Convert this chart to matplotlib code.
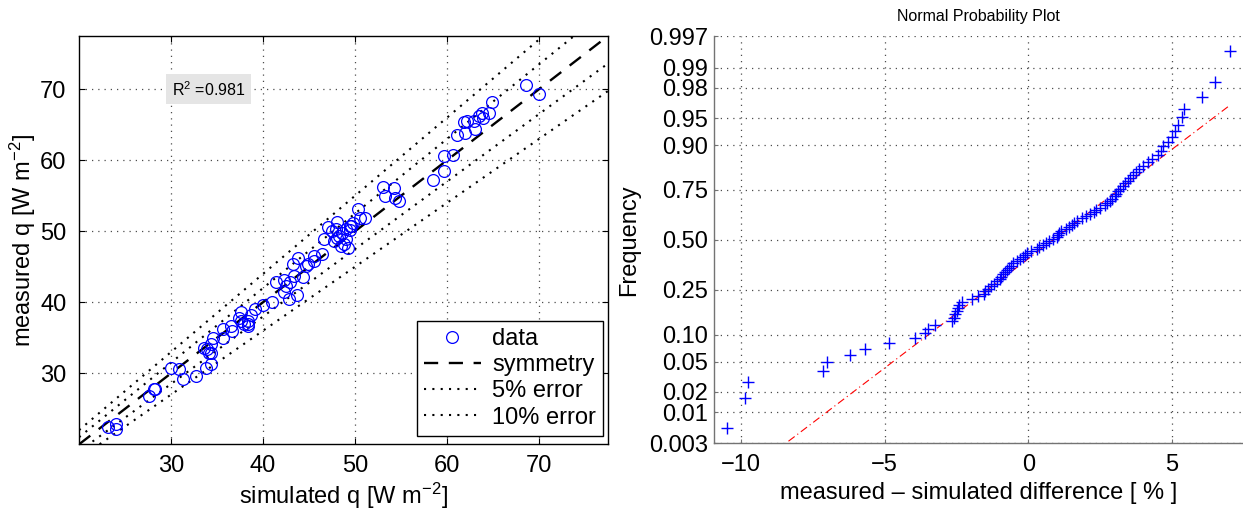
import matplotlib
matplotlib.use('Agg')
import matplotlib.pyplot as plt
import numpy as np
from statistics import NormalDist

plt.rcParams['font.family'] = ['Liberation Sans', 'DejaVu Sans']
plt.rcParams['mathtext.default'] = 'regular'

# Left panel: simulated vs measured heat flux
sim_q = [68.6, 70.0, 64.9, 64.6, 63.8, 63.9, 63.5, 62.9, 62.2, 61.9, 63.05, 62.0, 61.1,
         60.7, 59.7, 59.7, 58.5, 53.0, 54.2, 53.3, 54.4, 54.8, 50.3, 51.05, 50.5, 49.8,
         49.45, 48.1, 47.1, 47.9, 49.0, 48.6, 46.6, 47.7, 49.0, 48.8, 49.2, 43.8, 45.6,
         46.4, 45.6, 44.9, 43.3, 44.7, 43.4, 44.3, 41.4, 42.3, 42.9, 42.5, 42.3, 43.75,
         42.8, 40.95, 39.95, 39.1, 37.6, 38.7, 37.4, 37.6, 38.4, 38.4, 38.4, 36.5, 36.6,
         35.6, 35.6, 34.55, 34.3, 33.9, 34.1, 34.3, 34.4, 33.8, 30.0, 30.9, 31.3, 32.7,
         28.3, 28.1, 27.6, 23.2, 24.0, 24.0, 48.3, 49.5, 48.0, 47.5, 48.5, 49.6, 33.6, 37.9]
meas_q = [70.6, 69.3, 68.2, 66.7, 66.7, 66.0, 66.2, 65.5, 65.5, 65.4, 64.4, 63.9, 63.5,
          60.7, 60.6, 58.5, 57.2, 56.3, 56.05, 55.0, 54.75, 54.3, 53.1, 51.9, 51.9, 51.2,
          50.75, 51.3, 50.6, 50.3, 50.3, 49.8, 48.9, 48.6, 48.9, 48.2, 47.7, 46.3, 46.5,
          46.8, 45.8, 45.35, 45.35, 45.1, 43.7, 43.5, 42.8, 43.2, 42.8, 42.3, 41.4, 41.1,
          40.4, 40.0, 39.6, 39.1, 38.6, 38.2, 37.85, 37.4, 37.4, 36.9, 36.6, 36.7, 36.0,
          36.2, 35.0, 35.0, 34.1, 33.4, 32.9, 32.9, 31.3, 30.8, 30.8, 30.6, 29.15, 29.6,
          27.85, 27.75, 26.8, 22.45, 22.8, 22.1, 49.4, 50.2, 49.0, 50.0, 48.0, 50.8, 33.6, 37.0]
r2_text = 'R$^2$ =0.981'
q_ticks = [30, 40, 50, 60, 70]
q_lim = (20, 77.55)
error_bands = [(0.05, '5% error'), (0.10, '10% error')]

# Right panel: sorted measured - simulated differences [%]
diff_pct = [-10.5, -9.85, -9.75, -7.15, -7.0, -6.2, -5.7, -4.85, -3.95, -3.6, -3.5, -3.25,
            -2.65, -2.6, -2.55, -2.5, -2.45, -2.4, -2.3, -1.95, -1.75, -1.55, -1.5, -1.4,
            -1.3, -1.2, -1.1, -1.0, -0.95, -0.88, -0.82, -0.75, -0.68, -0.6, -0.55, -0.4,
            -0.28, -0.2, -0.12, -0.06, 0.1, 0.3, 0.38, 0.5, 0.62, 0.72, 0.85, 0.98, 1.03,
            1.08, 1.13, 1.3, 1.42, 1.52, 1.58, 1.7, 1.85, 2.0, 2.15, 2.28, 2.35, 2.5, 2.65,
            2.75, 2.85, 2.92, 3.0, 3.05, 3.12, 3.2, 3.28, 3.36, 3.45, 3.55, 3.65, 3.75, 3.85,
            4.0, 4.15, 4.3, 4.5, 4.6, 4.68, 4.85, 5.0, 5.1, 5.22, 5.33, 5.42, 6.04, 6.5, 7.03]
prob_ticks = [0.003, 0.01, 0.02, 0.05, 0.10, 0.25, 0.50, 0.75, 0.90, 0.95, 0.98, 0.99, 0.997]
prob_labels = ['0.003', '0.01', '0.02', '0.05', '0.10', '0.25', '0.50', '0.75', '0.90',
               '0.95', '0.98', '0.99', '0.997']
diff_ticks = [-10, -5, 0, 5]

FS = 17
GRID = dict(color='0.3', linestyle=(0, (1, 4)), linewidth=0.9)

fig = plt.figure(figsize=(12.43, 5.11), dpi=100)

# --- left panel ---
ax1 = fig.add_axes([0.0636, 0.1305, 0.4258, 0.7996])
xs = np.array(q_lim)
ax1.plot(sim_q, meas_q, 'o', mfc='none', mec='blue', ms=8.5, mew=0.9, label='data', zorder=4)
ax1.plot(xs, xs, color='k', lw=1.7, dashes=(6, 4.5), label='symmetry', zorder=3)
for err, lab in error_bands:
    ax1.plot(xs, xs * (1 + err), color='k', lw=1.5, linestyle=(0, (1, 3.0)), label=lab, zorder=3)
    ax1.plot(xs, xs * (1 - err), color='k', lw=1.5, linestyle=(0, (1, 3.0)), zorder=3)
ax1.set_xlim(q_lim)
ax1.set_ylim(q_lim)
ax1.set_xticks(q_ticks)
ax1.set_yticks(q_ticks)
ax1.grid(True, **GRID)
ax1.tick_params(direction='in', length=4, top=True, right=True, labelsize=FS, width=0.8)
ax1.tick_params(axis='x', pad=8)
ax1.tick_params(axis='y', pad=9)
for s in ax1.spines.values():
    s.set_linewidth(1.0)
ax1.set_xlabel('simulated q [W m$^{-2}$]', fontsize=FS)
ax1.set_ylabel('measured q [W m$^{-2}$]', fontsize=FS)
ax1.xaxis.set_label_coords(0.5, -0.09)
ax1.yaxis.set_label_coords(-0.078, 0.5)
ax1.text(30.1, 70, r2_text, fontsize=11.5, ha='left', va='center',
         bbox=dict(boxstyle='square,pad=0.35', fc='#e5e5e5', ec='none'), zorder=5)
leg = ax1.legend(loc='lower right', bbox_to_anchor=(0.9906, 0.021), borderaxespad=0,
                 fontsize=FS, fancybox=False, edgecolor='k', framealpha=1,
                 handlelength=2.4, labelspacing=0.18, borderpad=0.3, handletextpad=0.5)
leg.get_frame().set_linewidth(1.0)

# --- right panel: normal probability plot ---
nd = NormalDist()
n = len(diff_pct)
d = np.sort(np.array(diff_pct))
z = np.array([nd.inv_cdf((i + 0.5) / n) for i in range(n)])
q1, q3 = np.percentile(d, [25, 75])
slope = (q3 - q1) / (nd.inv_cdf(0.75) - nd.inv_cdf(0.25))
mid = (q1 + q3) / 2
line_x = np.array([d.min(), d.max()])
line_z = (line_x - mid) / slope

ax2 = fig.add_axes([0.5744, 0.1325, 0.4256, 0.7961])
ax2.plot(line_x, line_z, color='red', lw=0.8, linestyle=(0, (7, 3, 1, 3)), zorder=3)
ax2.plot(d, z, '+', color='blue', ms=9, mew=1.0, zorder=4)
rng = d.max() - d.min()
ax2.set_xlim(d.min() - 0.025 * rng, d.max() + 0.025 * rng)
ax2.set_ylim(nd.inv_cdf(prob_ticks[0]), nd.inv_cdf(prob_ticks[-1]))
ax2.set_xticks(diff_ticks)
ax2.set_xticklabels(['\u221210', '\u22125', '0', '5'])
ax2.set_yticks([nd.inv_cdf(p) for p in prob_ticks])
ax2.set_yticklabels(prob_labels)
ax2.grid(True, **GRID)
ax2.spines['top'].set_visible(False)
ax2.spines['right'].set_visible(False)
for s in ('left', 'bottom'):
    ax2.spines[s].set_color('0.45')
    ax2.spines[s].set_linewidth(1.0)
ax2.tick_params(direction='in', length=3, labelsize=FS, color='0.45', width=0.8)
ax2.tick_params(axis='x', pad=8)
ax2.tick_params(axis='y', pad=4)
ax2.set_xlabel('measured \u2013 simulated difference [ % ]', fontsize=FS)
ax2.set_ylabel('Frequency', fontsize=FS)
ax2.xaxis.set_label_coords(0.5, -0.095)
ax2.yaxis.set_label_coords(-0.14, 0.5)
ax2.set_title('Normal Probability Plot', fontsize=11.5, pad=11)

fig.savefig('out.png', dpi=100)
